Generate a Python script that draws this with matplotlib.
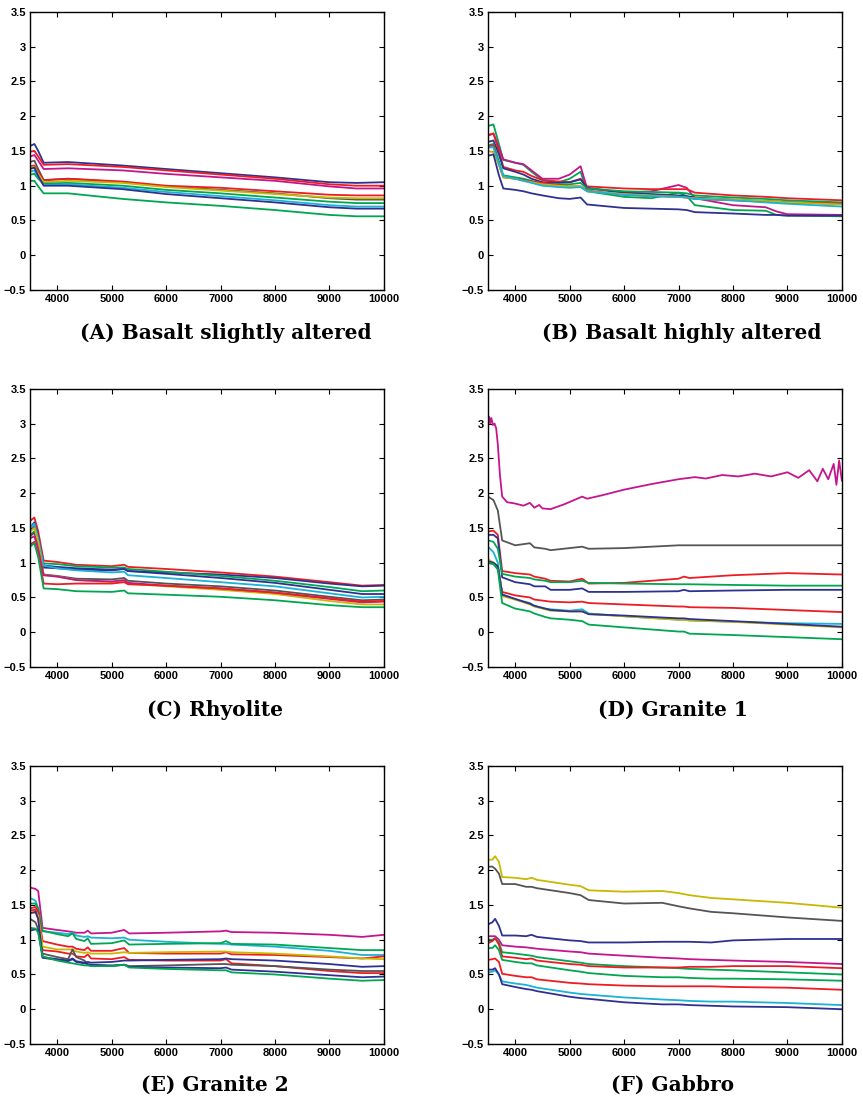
import matplotlib.pyplot as plt

# colours used in the original MATLAB figure
BLUE = '#2e3192'
RED = '#ed1c24'
MAGENTA = '#c4168c'
GREEN = '#00a651'
CYAN = '#1ab2d6'
YELLOW = '#c9b800'
GRAY = '#555555'

# ---- (A) Basalt slightly altered ----
WN_A = [3500, 3580, 3650, 3750, 4200, 5200, 6000, 7000, 8000, 9000, 9500, 10000]
COLORS_A = [BLUE, RED, MAGENTA, GRAY, RED, YELLOW, GREEN, CYAN, BLUE, GREEN]
CURVES_A = [
    [1.57, 1.60, 1.50, 1.33, 1.34, 1.29, 1.24, 1.18, 1.12, 1.05, 1.04, 1.05],
    [1.49, 1.50, 1.42, 1.30, 1.31, 1.27, 1.22, 1.16, 1.10, 1.02, 1.00, 1.00],
    [1.42, 1.44, 1.36, 1.24, 1.25, 1.22, 1.17, 1.12, 1.07, 0.99, 0.96, 0.96],
    [1.34, 1.36, 1.24, 1.08, 1.10, 1.05, 0.99, 0.94, 0.89, 0.82, 0.80, 0.80],
    [1.28, 1.29, 1.20, 1.08, 1.10, 1.06, 1.00, 0.97, 0.92, 0.87, 0.86, 0.86],
    [1.26, 1.27, 1.17, 1.05, 1.07, 1.04, 0.98, 0.93, 0.88, 0.83, 0.82, 0.82],
    [1.16, 1.17, 1.10, 1.03, 1.04, 1.00, 0.94, 0.89, 0.83, 0.77, 0.75, 0.75],
    [1.20, 1.22, 1.12, 1.01, 1.02, 0.97, 0.91, 0.85, 0.79, 0.72, 0.70, 0.70],
    [1.24, 1.26, 1.14, 1.00, 1.00, 0.95, 0.88, 0.82, 0.76, 0.69, 0.67, 0.67],
    [1.07, 1.07, 0.99, 0.89, 0.89, 0.81, 0.76, 0.71, 0.65, 0.58, 0.56, 0.56],
]

# ---- (B) Basalt highly altered ----
WN_B = [3500, 3600, 3700, 3780, 4000, 4150, 4300, 4500, 4800, 5000, 5200, 5320,
        6000, 6500, 7000, 7150, 7300, 8000, 8600, 8800, 9000, 10000]
COLORS_B = [GREEN, MAGENTA, RED, BLUE, GREEN, RED, YELLOW, CYAN, BLUE]
CURVES_B = [
    [1.86, 1.88, 1.60, 1.37, 1.33, 1.30, 1.20, 1.08, 1.05, 1.10, 1.20, 0.92,
     0.84, 0.82, 0.90, 0.85, 0.72, 0.65, 0.64, 0.58, 0.57, 0.56],
    [1.72, 1.75, 1.55, 1.38, 1.33, 1.31, 1.22, 1.10, 1.10, 1.16, 1.28, 0.96,
     0.90, 0.92, 1.01, 0.97, 0.82, 0.72, 0.69, 0.63, 0.59, 0.58],
    [1.73, 1.75, 1.50, 1.27, 1.22, 1.20, 1.14, 1.08, 1.06, 1.05, 1.10, 0.99,
     0.96, 0.95, 0.95, 0.95, 0.90, 0.86, 0.84, 0.83, 0.82, 0.79],
    [1.63, 1.65, 1.45, 1.25, 1.20, 1.16, 1.10, 1.05, 1.04, 1.05, 1.09, 0.97,
     0.90, 0.88, 0.86, 0.85, 0.83, 0.80, 0.78, 0.77, 0.76, 0.74],
    [1.58, 1.60, 1.35, 1.15, 1.12, 1.10, 1.07, 1.03, 1.02, 1.02, 1.04, 0.96,
     0.92, 0.91, 0.90, 0.89, 0.86, 0.83, 0.81, 0.80, 0.79, 0.76],
    [1.56, 1.58, 1.30, 1.12, 1.10, 1.08, 1.06, 1.04, 1.01, 0.99, 0.99, 0.93,
     0.87, 0.85, 0.84, 0.83, 0.81, 0.79, 0.77, 0.77, 0.76, 0.74],
    [1.50, 1.48, 1.30, 1.12, 1.10, 1.07, 1.05, 1.02, 1.00, 0.99, 0.99, 0.92,
     0.88, 0.86, 0.84, 0.83, 0.82, 0.80, 0.78, 0.77, 0.76, 0.73],
    [1.55, 1.55, 1.32, 1.14, 1.10, 1.07, 1.04, 1.00, 0.98, 0.97, 0.98, 0.92,
     0.87, 0.85, 0.84, 0.83, 0.81, 0.79, 0.76, 0.75, 0.74, 0.70],
    [1.43, 1.45, 1.15, 0.96, 0.94, 0.92, 0.89, 0.86, 0.82, 0.81, 0.83, 0.73,
     0.68, 0.67, 0.66, 0.65, 0.62, 0.60, 0.58, 0.58, 0.57, 0.57],
]

# ---- (C) Rhyolite ----
WN_C = [3500, 3580, 3650, 3750, 4000, 4350, 5000, 5230, 5300,
        6000, 7000, 8000, 9000, 9600, 10000]
COLORS_C = [RED, BLUE, GREEN, BLUE, CYAN, GRAY, YELLOW, MAGENTA, RED, GREEN]
CURVES_C = [
    [1.60, 1.65, 1.45, 1.03, 1.01, 0.97, 0.95, 0.97, 0.94, 0.91, 0.86, 0.80, 0.72, 0.67, 0.68],
    [1.50, 1.58, 1.38, 0.93, 0.92, 0.90, 0.89, 0.91, 0.88, 0.86, 0.83, 0.78, 0.70, 0.66, 0.67],
    [1.40, 1.45, 1.30, 0.99, 0.98, 0.95, 0.93, 0.93, 0.91, 0.87, 0.81, 0.74, 0.65, 0.59, 0.60],
    [1.45, 1.52, 1.33, 0.96, 0.94, 0.92, 0.90, 0.91, 0.88, 0.84, 0.78, 0.71, 0.61, 0.55, 0.55],
    [1.50, 1.56, 1.35, 0.96, 0.92, 0.89, 0.86, 0.87, 0.82, 0.78, 0.72, 0.66, 0.56, 0.50, 0.51],
    [1.38, 1.43, 1.25, 0.83, 0.81, 0.77, 0.76, 0.78, 0.74, 0.70, 0.66, 0.60, 0.51, 0.46, 0.47],
    [1.45, 1.50, 1.30, 0.82, 0.80, 0.75, 0.72, 0.74, 0.70, 0.66, 0.61, 0.55, 0.45, 0.40, 0.40],
    [1.35, 1.38, 1.20, 0.82, 0.80, 0.75, 0.73, 0.75, 0.71, 0.67, 0.63, 0.57, 0.48, 0.43, 0.44],
    [1.26, 1.30, 1.12, 0.70, 0.69, 0.70, 0.70, 0.72, 0.69, 0.67, 0.63, 0.57, 0.49, 0.44, 0.45],
    [1.23, 1.28, 1.08, 0.63, 0.62, 0.59, 0.58, 0.60, 0.56, 0.54, 0.51, 0.46, 0.39, 0.36, 0.36],
]

# ---- (D) Granite 1 ----
WN_D = [3500, 3600, 3680, 3760, 4000, 4270, 4350, 4550, 4650, 5000,
        5230, 5350, 6000, 7000, 7100, 7200, 8000, 9000, 10000]
COLORS_D = [GRAY, RED, BLUE, GREEN, CYAN, RED, YELLOW, BLUE, GREEN]
CURVES_D = [
    [1.95, 1.90, 1.75, 1.32, 1.25, 1.28, 1.22, 1.20, 1.18, 1.21,
     1.23, 1.20, 1.21, 1.25, 1.25, 1.25, 1.25, 1.25, 1.25],
    [1.45, 1.46, 1.40, 0.88, 0.85, 0.83, 0.80, 0.77, 0.74, 0.73,
     0.77, 0.70, 0.71, 0.77, 0.80, 0.78, 0.82, 0.85, 0.83],
    [1.40, 1.40, 1.35, 0.79, 0.72, 0.69, 0.66, 0.66, 0.61, 0.61,
     0.63, 0.58, 0.58, 0.59, 0.61, 0.59, 0.60, 0.61, 0.61],
    [1.32, 1.30, 1.20, 0.84, 0.80, 0.78, 0.76, 0.74, 0.72, 0.72,
     0.74, 0.71, 0.70, 0.69, 0.69, 0.69, 0.68, 0.67, 0.67],
    [1.23, 1.15, 1.00, 0.55, 0.47, 0.42, 0.38, 0.34, 0.33, 0.31,
     0.33, 0.27, 0.23, 0.18, 0.18, 0.17, 0.15, 0.13, 0.12],
    [1.00, 0.98, 0.93, 0.58, 0.53, 0.50, 0.47, 0.45, 0.44, 0.43,
     0.44, 0.42, 0.40, 0.37, 0.37, 0.36, 0.35, 0.32, 0.29],
    [1.05, 1.00, 0.95, 0.52, 0.47, 0.40, 0.37, 0.33, 0.31, 0.30,
     0.30, 0.26, 0.23, 0.18, 0.18, 0.17, 0.15, 0.11, 0.07],
    [1.02, 1.00, 0.95, 0.54, 0.48, 0.41, 0.38, 0.34, 0.32, 0.30,
     0.30, 0.26, 0.24, 0.20, 0.20, 0.19, 0.16, 0.12, 0.08],
    [1.00, 0.98, 0.90, 0.42, 0.34, 0.30, 0.27, 0.22, 0.20, 0.18,
     0.16, 0.11, 0.07, 0.01, 0.01, -0.02, -0.04, -0.07, -0.10],
]
# the noisy magenta spectrum of Granite 1 has its own sampling
WN_D_MAG = [3500, 3520, 3540, 3560, 3590, 3620, 3650, 3680, 3720, 3760,
            3850, 4000, 4150, 4270, 4350, 4440, 4500, 4650, 4900, 5230,
            5320, 5600, 6000, 6500, 7000, 7300, 7500, 7800, 8100, 8400,
            8700, 9000, 9200, 9400, 9550, 9650, 9750, 9850, 9900, 9950, 10000]
CURVE_D_MAG = [3.02, 3.10, 3.00, 3.08, 2.98, 3.00, 2.93, 2.70, 2.25, 1.95,
               1.87, 1.85, 1.82, 1.86, 1.79, 1.83, 1.78, 1.77, 1.84, 1.95,
               1.92, 1.97, 2.05, 2.13, 2.20, 2.23, 2.21, 2.26, 2.24, 2.28,
               2.24, 2.30, 2.22, 2.33, 2.17, 2.35, 2.20, 2.42, 2.12, 2.47, 2.18]

# ---- (E) Granite 2 ----
WN_E = [3500, 3600, 3650, 3730, 4000, 4200, 4280, 4350, 4500, 4560, 4620,
        5000, 5230, 5320, 6000, 7000, 7100, 7200, 8000, 9000, 9600, 10000]
COLORS_E = [MAGENTA, CYAN, GREEN, RED, RED, YELLOW, GRAY, BLUE, BLUE, GREEN]
CURVES_E = [
    [1.75, 1.73, 1.70, 1.17, 1.14, 1.12, 1.11, 1.10, 1.10, 1.13, 1.09,
     1.10, 1.14, 1.09, 1.10, 1.12, 1.13, 1.11, 1.10, 1.07, 1.04, 1.07],
    [1.60, 1.56, 1.45, 1.12, 1.10, 1.08, 1.10, 1.06, 1.04, 1.05, 1.03,
     1.02, 1.03, 1.00, 0.97, 0.94, 0.94, 0.93, 0.90, 0.84, 0.78, 0.78],
    [1.52, 1.52, 1.45, 1.13, 1.08, 1.05, 1.09, 1.01, 0.98, 1.02, 0.94,
     0.95, 0.99, 0.93, 0.94, 0.95, 0.98, 0.94, 0.93, 0.88, 0.85, 0.85],
    [1.45, 1.47, 1.40, 0.98, 0.93, 0.90, 0.90, 0.87, 0.85, 0.89, 0.84,
     0.84, 0.88, 0.81, 0.80, 0.80, 0.82, 0.79, 0.78, 0.75, 0.73, 0.76],
    [1.42, 1.43, 1.30, 0.85, 0.83, 0.80, 0.80, 0.76, 0.75, 0.79, 0.73,
     0.72, 0.75, 0.71, 0.70, 0.70, 0.72, 0.66, 0.62, 0.55, 0.52, 0.52],
    [1.40, 1.38, 1.35, 0.90, 0.86, 0.86, 0.86, 0.83, 0.81, 0.82, 0.80,
     0.80, 0.82, 0.81, 0.82, 0.83, 0.83, 0.82, 0.80, 0.76, 0.73, 0.72],
    [1.30, 1.25, 1.15, 0.80, 0.75, 0.72, 0.86, 0.75, 0.70, 0.64, 0.63,
     0.62, 0.64, 0.62, 0.63, 0.65, 0.65, 0.64, 0.62, 0.57, 0.55, 0.55],
    [1.38, 1.40, 1.30, 0.75, 0.72, 0.70, 0.73, 0.69, 0.67, 0.68, 0.67,
     0.68, 0.70, 0.70, 0.71, 0.72, 0.73, 0.72, 0.70, 0.65, 0.61, 0.62],
    [1.13, 1.15, 1.13, 0.74, 0.71, 0.69, 0.72, 0.68, 0.66, 0.65, 0.64,
     0.63, 0.64, 0.61, 0.60, 0.59, 0.60, 0.57, 0.54, 0.49, 0.46, 0.47],
    [1.17, 1.16, 1.10, 0.76, 0.70, 0.67, 0.66, 0.65, 0.63, 0.63, 0.62,
     0.62, 0.64, 0.60, 0.58, 0.56, 0.56, 0.53, 0.50, 0.44, 0.41, 0.42],
]

# ---- (F) Gabbro ----
WN_F = [3500, 3580, 3630, 3700, 3760, 4000, 4200, 4300, 4400, 5000,
        5200, 5350, 6000, 6700, 7000, 7200, 7600, 8000, 9000, 10000]
COLORS_F = [YELLOW, GRAY, BLUE, MAGENTA, GREEN, RED, GREEN, RED, CYAN, BLUE]
CURVES_F = [
    [2.15, 2.15, 2.20, 2.12, 1.90, 1.89, 1.87, 1.89, 1.86, 1.79,
     1.77, 1.71, 1.69, 1.70, 1.67, 1.64, 1.60, 1.58, 1.53, 1.46],
    [2.05, 2.05, 2.02, 1.95, 1.80, 1.80, 1.76, 1.76, 1.74, 1.67,
     1.64, 1.57, 1.52, 1.53, 1.48, 1.45, 1.40, 1.38, 1.32, 1.27],
    [1.22, 1.25, 1.30, 1.20, 1.06, 1.06, 1.05, 1.07, 1.04, 0.99,
     0.98, 0.96, 0.96, 0.97, 0.97, 0.97, 0.96, 0.99, 1.01, 1.01],
    [1.05, 1.05, 1.05, 1.00, 0.92, 0.90, 0.89, 0.88, 0.87, 0.83,
     0.82, 0.80, 0.77, 0.74, 0.73, 0.72, 0.71, 0.70, 0.68, 0.65],
    [1.00, 1.00, 1.02, 0.96, 0.82, 0.80, 0.78, 0.77, 0.75, 0.69,
     0.67, 0.65, 0.62, 0.60, 0.59, 0.58, 0.57, 0.56, 0.53, 0.50],
    [0.95, 0.98, 1.02, 0.93, 0.76, 0.74, 0.72, 0.73, 0.70, 0.65,
     0.64, 0.62, 0.60, 0.60, 0.60, 0.61, 0.61, 0.62, 0.62, 0.59],
    [0.88, 0.88, 0.92, 0.85, 0.71, 0.68, 0.66, 0.66, 0.63, 0.56,
     0.54, 0.52, 0.48, 0.46, 0.46, 0.45, 0.44, 0.44, 0.43, 0.41],
    [0.71, 0.72, 0.73, 0.68, 0.51, 0.48, 0.46, 0.46, 0.43, 0.38,
     0.37, 0.36, 0.34, 0.33, 0.33, 0.33, 0.33, 0.32, 0.31, 0.28],
    [0.53, 0.54, 0.56, 0.50, 0.40, 0.37, 0.35, 0.33, 0.31, 0.24,
     0.22, 0.21, 0.17, 0.14, 0.13, 0.12, 0.11, 0.11, 0.09, 0.06],
    [0.57, 0.57, 0.59, 0.50, 0.36, 0.32, 0.29, 0.28, 0.26, 0.18,
     0.16, 0.15, 0.10, 0.07, 0.07, 0.06, 0.05, 0.04, 0.03, 0.00],
]

TITLES = ['(A) Basalt slightly altered', '(B) Basalt highly altered',
          '(C) Rhyolite', '(D) Granite 1', '(E) Granite 2', '(F) Gabbro']

XTICKS = [4000, 5000, 6000, 7000, 8000, 9000, 10000]
YTICKS = [-0.5, 0, 0.5, 1, 1.5, 2, 2.5, 3, 3.5]
YTICKLABELS = ['\u22120.5', '0', '0.5', '1', '1.5', '2', '2.5', '3', '3.5']

plt.rcParams['font.family'] = 'Liberation Sans'

fig = plt.figure(figsize=(8.63, 11.02), dpi=100)

# axes boxes in figure fractions: left, bottom, width, height
left_cols = [0.0348, 0.5655]
bottoms = [0.7368, 0.3947, 0.0526]
width, height = 0.410, 0.2525
title_pos = [(0.262, 0.698), (0.790, 0.698),
             (0.249, 0.356), (0.780, 0.356),
             (0.249, 0.0155), (0.779, 0.0155)]

panels = [
    (WN_A, CURVES_A, COLORS_A),
    (WN_B, CURVES_B, COLORS_B),
    (WN_C, CURVES_C, COLORS_C),
    (WN_D, CURVES_D, COLORS_D),
    (WN_E, CURVES_E, COLORS_E),
    (WN_F, CURVES_F, COLORS_F),
]

for i, (wn, curves, colors) in enumerate(panels):
    ax = fig.add_axes([left_cols[i % 2], bottoms[i // 2], width, height])
    for y, c in zip(curves, colors):
        ax.plot(wn, y, color=c, lw=1.3, solid_joinstyle='round')
    if i == 3:
        ax.plot(WN_D_MAG, CURVE_D_MAG, color=MAGENTA, lw=1.3)

    ax.set_xlim(3500, 10000)
    ax.set_ylim(-0.5, 3.5)
    ax.set_xticks(XTICKS)
    ax.set_yticks(YTICKS)
    ax.set_yticklabels(YTICKLABELS)
    ax.tick_params(direction='in', length=3.5, width=0.8, top=True, right=True,
                   labelsize=8, pad=3)
    for lab in ax.get_xticklabels() + ax.get_yticklabels():
        lab.set_fontweight('bold')
    for sp in ax.spines.values():
        sp.set_linewidth(1.0)

    tx, ty = title_pos[i]
    fig.text(tx, ty, TITLES[i], ha='center', va='center',
             fontsize=14.5, family='DejaVu Serif', fontweight='bold')

fig.savefig('out.png', dpi=100)
